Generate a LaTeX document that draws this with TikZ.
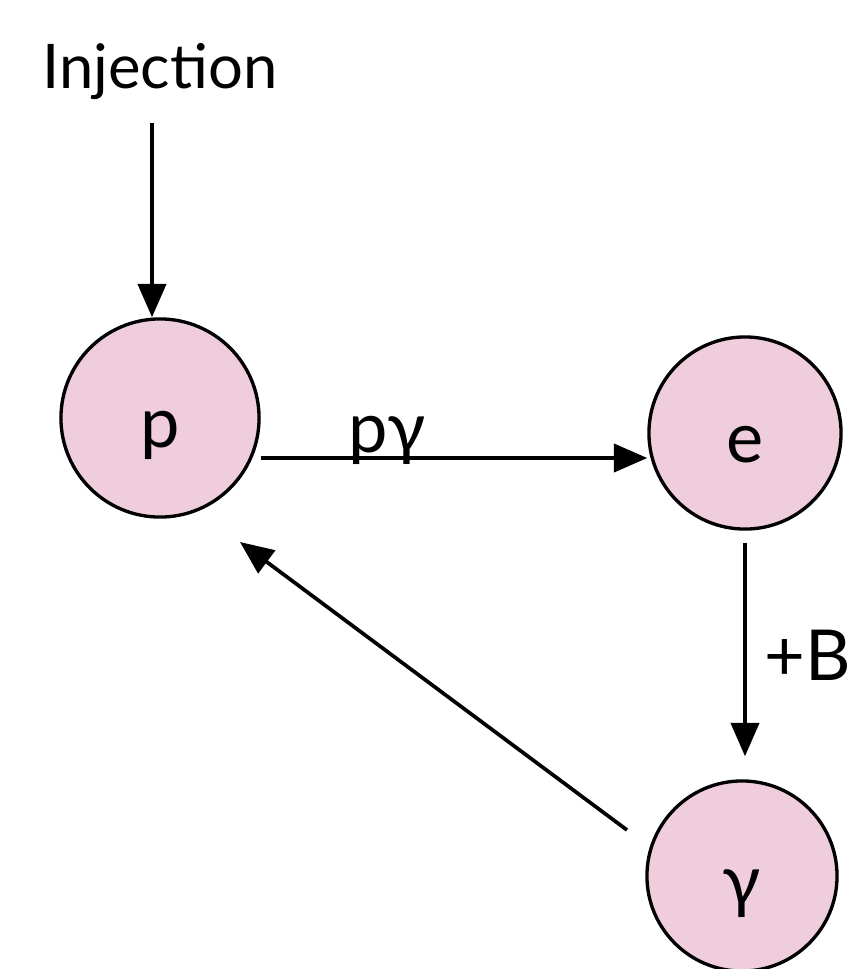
\documentclass[tikz,border=0pt]{standalone}
\usepackage{fontspec}
\setmainfont{Lato}
\usetikzlibrary{arrows.meta,calc}
\definecolor{nodepink}{RGB}{239,205,220}
\begin{document}
\begin{tikzpicture}[x=0.01cm,y=-0.01cm,
  state/.style={circle,draw=black,line width=0.95pt,fill=nodepink,
    minimum size=1.92cm,inner sep=0pt,
    font=\fontsize{20}{24}\selectfont,text height=17pt,text depth=0pt},
  flow/.style={line width=1.05pt,-{Triangle[length=9.5pt,width=8pt]}},
  lbl/.style={font=\fontsize{20}{24}\selectfont,inner sep=0pt}]
\useasboundingbox (0,0) rectangle (860,969);

% particle populations
\node[state,minimum size=1.98cm] (p) at (160,418) {p};
\node[state] (e) at (745,433) {e};
\node[state,minimum size=1.9cm] (g) at (742,876) {γ};

% source term
\node[font=\fontsize{17.5}{21}\selectfont,inner sep=0pt,anchor=base] (inj) at (160,88) {Injection};
\draw[flow] ([shift={(-8,23)}]inj.south) -- ([shift={(-8,0)}]p.north);

% p gamma interactions feed the electrons
\draw[flow] ([shift={(0,40)}]p.east) -- ([shift={(0,25)}]e.west);
\node[lbl,anchor=base] (pglbl) at (387,452) {pγ};

% synchrotron emission in the magnetic field
\draw[flow,shorten <=0.12cm,shorten >=0.23cm] (e.south) -- (e.south |- g.north);
\node[lbl,anchor=west] (blbl) at (764,655) {+B};

% photons interacting back with protons
\coordinate (gout) at ($(g.center)+(-115,-46)$);
\coordinate (pin) at ($(p.center)+(80,124)$);
\draw[flow] (gout) -- (pin);
\end{tikzpicture}
\end{document}
